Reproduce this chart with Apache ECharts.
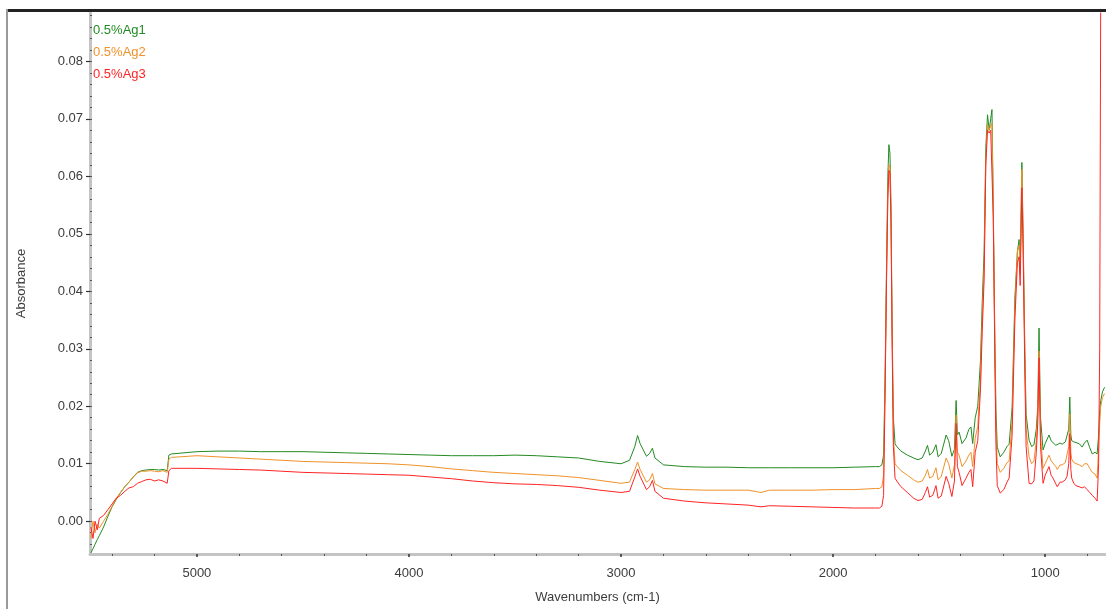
<!DOCTYPE html>
<html>
<head>
<meta charset="utf-8">
<script src="https://cdn.jsdelivr.net/npm/echarts@6/dist/echarts.min.js"></script>
<style>
html,body{margin:0;padding:0;background:#fff;}
#c{width:1106px;height:609px;}
</style>
</head>
<body>
<div id="c"></div>
<script>
// Wavenumbers (cm-1), descending
const wavenumbers = [5500,5490,5480,5470,5460,5440,5420,5400,5380,5360,5340,5320,5300,5280,5260,5240,5220,5200,5180,5160,5140,5132,5120,
5000,4900,4800,4700,4600,4500,4400,4300,4200,4100,4000,3900,3800,3700,3600,3500,3400,3300,3200,3100,3000,2960,2935,2922,2910,2880,2865,2852,2840,2800,2700,2600,2500,2400,2340,2300,2200,2100,2000,1900,1800,
1782,1770,1762,1755,1748,1742,1737,1732,1727,1722,1716,1708,1700,1680,1650,1620,1600,1580,1565,1555,1545,1530,1515,1505,1490,1467,1455,1440,1428,1420,1414,1406,1392,1373,1360,1350,1342,1330,1318,1305,1297,1288,1280,1272,1264,1257,1251,1245,1237,1232,1226,1212,1195,1180,1170,1156,1143,1131,1123,1118,1110,1104,1096,1090,1076,1064,1053,1042,1035,1029,1022,1010,1000,982,972,963,950,943,930,920,905,897,889,884,879,875,865,856,840,826,815,802,790,778,765,755,748,743,738,730,720];

const ag1 = [-0.0055,-0.0048,-0.0040,-0.0032,-0.0025,-0.0010,0.0008,0.0025,0.0038,0.0050,0.0060,0.0068,0.0077,0.0085,0.0088,0.0089,0.0090,0.0090,0.0089,0.0090,0.0088,0.0115,0.0117,
0.0121,0.0122,0.0122,0.0121,0.0121,0.0121,0.0120,0.0119,0.0118,0.0117,0.0116,0.0115,0.0114,0.0114,0.0114,0.0115,0.0114,0.0112,0.0110,0.0104,0.0100,0.0106,0.0130,0.0149,0.0135,0.0113,0.0118,0.0127,0.0110,0.0098,0.0095,0.0094,0.0094,0.0093,0.0093,0.0093,0.0093,0.0093,0.0093,0.0094,0.0095,
0.0095,0.0098,0.0115,0.0250,0.0450,0.0600,0.0655,0.0640,0.0550,0.0350,0.0180,0.0135,0.0130,0.0122,0.0115,0.0110,0.0107,0.0110,0.0122,0.0132,0.0115,0.0120,0.0133,0.0112,0.0118,0.0150,0.0140,0.0113,0.0125,0.0210,0.0150,0.0155,0.0135,0.0145,0.0160,0.0164,0.0135,0.0180,0.0200,0.0280,0.0380,0.0470,0.0650,0.0707,0.0680,0.0700,0.0716,0.0555,0.0307,0.0190,0.0129,0.0112,0.0120,0.0130,0.0134,0.0198,0.0388,0.0469,0.0490,0.0440,0.0624,0.0500,0.0300,0.0186,0.0141,0.0130,0.0133,0.0160,0.0200,0.0336,0.0180,0.0124,0.0135,0.0150,0.0140,0.0141,0.0132,0.0129,0.0136,0.0134,0.0138,0.0141,0.0160,0.0216,0.0150,0.0140,0.0138,0.0141,0.0135,0.0129,0.0136,0.0141,0.0128,0.0117,0.0120,0.0117,0.0150,0.0190,0.0210,0.0225,0.0233];

const ag2 = [-0.0030,0.0000,-0.0020,-0.0005,-0.0012,0.0000,0.0012,0.0026,0.0040,0.0050,0.0060,0.0068,0.0077,0.0084,0.0087,0.0087,0.0088,0.0087,0.0086,0.0088,0.0085,0.0108,0.0111,
0.0114,0.0112,0.0110,0.0108,0.0106,0.0104,0.0103,0.0102,0.0101,0.0100,0.0098,0.0095,0.0091,0.0088,0.0085,0.0083,0.0081,0.0079,0.0076,0.0071,0.0066,0.0068,0.0090,0.0103,0.0090,0.0068,0.0072,0.0083,0.0065,0.0057,0.0055,0.0054,0.0054,0.0054,0.0050,0.0054,0.0054,0.0054,0.0055,0.0055,0.0057,
0.0057,0.0060,0.0080,0.0230,0.0430,0.0570,0.0620,0.0615,0.0530,0.0330,0.0150,0.0100,0.0096,0.0088,0.0080,0.0072,0.0068,0.0070,0.0080,0.0090,0.0075,0.0078,0.0093,0.0072,0.0078,0.0110,0.0100,0.0075,0.0098,0.0185,0.0120,0.0115,0.0095,0.0105,0.0115,0.0120,0.0095,0.0145,0.0165,0.0250,0.0350,0.0440,0.0630,0.0690,0.0680,0.0688,0.0692,0.0540,0.0290,0.0160,0.0100,0.0085,0.0092,0.0102,0.0105,0.0175,0.0370,0.0470,0.0480,0.0430,0.0612,0.0490,0.0280,0.0160,0.0112,0.0100,0.0105,0.0140,0.0185,0.0296,0.0150,0.0092,0.0100,0.0115,0.0105,0.0105,0.0095,0.0090,0.0098,0.0098,0.0102,0.0105,0.0130,0.0186,0.0120,0.0108,0.0102,0.0100,0.0098,0.0095,0.0100,0.0100,0.0092,0.0085,0.0082,0.0075,0.0130,0.0170,0.0200,0.0215,0.0222];

const ag3 = [-0.0010,-0.0030,0.0000,-0.0015,0.0005,0.0010,0.0020,0.0030,0.0040,0.0045,0.0052,0.0058,0.0060,0.0066,0.0069,0.0072,0.0073,0.0070,0.0072,0.0070,0.0066,0.0088,0.0092,
0.0092,0.0091,0.0090,0.0089,0.0087,0.0085,0.0084,0.0083,0.0082,0.0081,0.0080,0.0077,0.0074,0.0070,0.0067,0.0065,0.0064,0.0062,0.0059,0.0054,0.0050,0.0052,0.0077,0.0091,0.0078,0.0055,0.0060,0.0071,0.0052,0.0040,0.0035,0.0032,0.0030,0.0028,0.0025,0.0027,0.0026,0.0025,0.0024,0.0023,0.0023,
0.0023,0.0026,0.0045,0.0220,0.0420,0.0560,0.0610,0.0605,0.0520,0.0320,0.0130,0.0075,0.0070,0.0060,0.0050,0.0040,0.0036,0.0038,0.0050,0.0060,0.0042,0.0045,0.0062,0.0040,0.0044,0.0078,0.0066,0.0043,0.0070,0.0170,0.0095,0.0085,0.0062,0.0075,0.0085,0.0090,0.0060,0.0120,0.0140,0.0230,0.0330,0.0420,0.0620,0.0680,0.0675,0.0680,0.0682,0.0530,0.0270,0.0130,0.0062,0.0049,0.0055,0.0068,0.0075,0.0150,0.0350,0.0450,0.0460,0.0410,0.0580,0.0470,0.0260,0.0130,0.0066,0.0065,0.0070,0.0120,0.0170,0.0284,0.0130,0.0066,0.0080,0.0095,0.0080,0.0075,0.0065,0.0060,0.0068,0.0068,0.0072,0.0078,0.0100,0.0152,0.0090,0.0075,0.0066,0.0062,0.0060,0.0058,0.0060,0.0055,0.0050,0.0045,0.0040,0.0035,0.0100,0.0300,0.0950,0.0950,0.0950];

const seriesNames = ['0.5%Ag1','0.5%Ag2','0.5%Ag3'];
const seriesColors = ['#238a23','#f0922a','#ff2424'];
const xTickLabels = [1000,2000,3000,4000,5000];
const yTickLabels = [0,0.01,0.02,0.03,0.04,0.05,0.06,0.07,0.08];
const xMinorTicks = [800,1000,1200,1400,1600,1800,2000,2200,2400,2600,2800,3000,3200,3400,3600,3800,4000,4200,4400,4600,4800,5000,5200,5400];
const yMinorTicks = [-0.004,-0.002,0,0.002,0.004,0.006,0.008,0.01,0.012,0.014,0.016,0.018,0.02,0.022,0.024,0.026,0.028,0.03,0.032,0.034,0.036,0.038,0.04,0.042,0.044,0.046,0.048,0.05,0.052,0.054,0.056,0.058,0.06,0.062,0.064,0.066,0.068,0.07,0.072,0.074,0.076,0.078,0.08,0.082,0.084,0.086,0.088];

const values = [ag1, ag2, ag3];
const X_MIN = 718, X_MAX = 5504, Y_MIN = -0.0057, Y_MAX = 0.0884;
const FONT = 'Liberation Sans, Arial, sans-serif';

const chart = echarts.init(document.getElementById('c'), null, {renderer:'canvas'});
const option = {
  animation: false,
  backgroundColor: '#ffffff',
  grid: {left: 90, right: 1, top: 13, bottom: 51, containLabel: false},
  legend: {
    orient: 'vertical', left: 83, top: 18,
    itemWidth: 0, itemHeight: 14, itemGap: 8,
    icon: 'rect',
    selectedMode: false,
    textStyle: {fontFamily: FONT, fontSize: 13},
    data: seriesNames.map((n,i)=>({name:n, itemStyle:{opacity:0}, textStyle:{color:seriesColors[i]}}))
  },
  xAxis: [{
    type: 'value', inverse: true, min: X_MIN, max: X_MAX,
    name: 'Wavenumbers (cm-1)', nameLocation: 'middle', nameGap: 37,
    nameTextStyle: {fontFamily: FONT, fontSize: 13, color: '#3c3c3c'},
    axisLine: {show: true, onZero: false, lineStyle: {color: '#c4c4c4', width: 3}},
    axisTick: {show: true, customValues: xTickLabels, length: 3, inside: false, lineStyle: {color: '#333', width: 1.5}},
    axisLabel: {customValues: xTickLabels, margin: 13, fontFamily: FONT, fontSize: 13, color: '#3c3c3c',
      formatter: v => String(v)},
    splitLine: {show: false}
  },{
    type: 'value', inverse: true, min: X_MIN, max: X_MAX, position: 'bottom',
    axisLine: {show: false, onZero: false},
    axisTick: {show: true, customValues: xMinorTicks, length: 2, inside: false, lineStyle: {color: '#555', width: 1}},
    axisLabel: {show: false},
    splitLine: {show: false}
  }],
  yAxis: [{
    type: 'value', min: Y_MIN, max: Y_MAX,
    name: 'Absorbance', nameLocation: 'middle', nameGap: 62, nameRotate: 90,
    nameTextStyle: {fontFamily: FONT, fontSize: 13, color: '#3c3c3c'},
    axisLine: {show: true, onZero: false, lineStyle: {color: '#c4c4c4', width: 3}},
    axisTick: {show: true, customValues: yTickLabels, length: 4, inside: false, lineStyle: {color: '#333', width: 1.2}},
    axisLabel: {customValues: yTickLabels, margin: 7, fontFamily: FONT, fontSize: 13, color: '#3c3c3c',
      formatter: v => v.toFixed(2)},
    splitLine: {show: false}
  },{
    type: 'value', min: Y_MIN, max: Y_MAX, position: 'left',
    axisLine: {show: false, onZero: false},
    axisTick: {show: true, customValues: yMinorTicks, length: 2, inside: true, lineStyle: {color: '#555', width: 1}},
    axisLabel: {show: false},
    splitLine: {show: false}
  }],
  graphic: [
    {type:'rect', shape:{x:6, y:9, width:1100, height:3}, style:{fill:'#222'}, z:100},
    {type:'rect', shape:{x:6, y:9, width:2, height:600}, style:{fill:'#9a9a9a'}, z:100}
  ],
  series: values.map((arr,i)=>({
    name: seriesNames[i],
    type: 'line',
    xAxisIndex: 0, yAxisIndex: 0,
    showSymbol: false, symbol: 'none',
    clip: true,
    lineStyle: {color: seriesColors[i], width: 1},
    itemStyle: {color: seriesColors[i]},
    data: wavenumbers.map((w,k)=>[w, arr[k]])
  }))
};
chart.setOption(option);
</script>
</body>
</html>
